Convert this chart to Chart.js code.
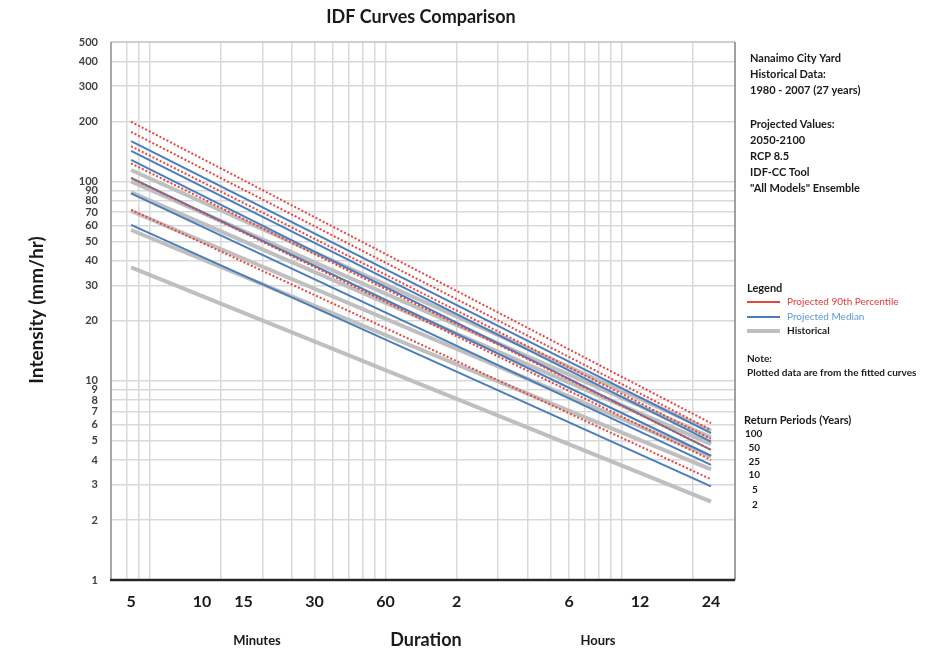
<!DOCTYPE html>
<html>
<head>
<meta charset="utf-8">
<title>IDF Curves Comparison</title>
<script src="https://cdn.jsdelivr.net/npm/chart.js@4.4.0/dist/chart.umd.min.js"></script>
<style>
body { margin: 0; background: #fff; }
</style>
</head>
<body>
<canvas id="idfChart" width="935" height="656"></canvas>
<script>
// return periods (years), lowest first
var periods = [2, 5, 10, 25, 50, 100];
// durations in minutes where the fitted curves start / end
var durations = [5, 1440];

// intensity (mm/hr) at 5 min and at 24 h
var hist5 = [37, 57, 71, 88, 100, 114];
var hist1440 = [2.47, 3.59, 4.16, 4.8, 5.2, 5.6];
var med5 = [60.5, 87, 104, 128, 142, 159];
var med1440 = [2.95, 3.78, 4.2, 4.5, 4.95, 5.45];
var p90_5 = [72, 104, 123, 150, 177, 199];
var p90_1440 = [3.2, 4.0, 4.5, 5.1, 5.66, 6.12];

// axes
var yTicks = [1, 2, 3, 4, 5, 6, 7, 8, 9, 10, 20, 30, 40, 50, 60, 70, 80, 90, 100, 200, 300, 400, 500];
var xGrid = [4.8, 5.4, 6, 12, 18, 24, 30, 36, 42, 48, 54, 60, 120, 180, 240, 300, 360, 420, 480, 540, 600, 1200];
var xTicks = [5, 10, 15, 30, 60, 120, 360, 720, 1440];
var xTickLabels = ['5', '10', '15', '30', '60', '2', '6', '12', '24'];

var FONT = 'Lato, "Open Sans", sans-serif';

function pts(start, end, i) {
    return [{x: durations[0], y: start[i]}, {x: durations[1], y: end[i]}];
}

var datasets = [];
// red dotted first so it sits on top, grey last (underneath)
for (var i = 0; i < periods.length; i++) {
    datasets.push({
        label: 'Projected 90th Percentile ' + periods[i],
        data: pts(p90_5, p90_1440, i),
        borderColor: '#e8453f',
        borderWidth: 2,
        borderDash: [2, 2],
        xAxisID: 'x'
    });
}
for (var i = 0; i < periods.length; i++) {
    datasets.push({
        label: 'Projected Median ' + periods[i],
        data: pts(med5, med1440, i),
        borderColor: '#4a7ebb',
        borderWidth: 2,
        xAxisID: 'x'
    });
}
for (var i = 0; i < periods.length; i++) {
    datasets.push({
        label: 'Historical ' + periods[i],
        data: pts(hist5, hist1440, i),
        borderColor: '#bfbfbf',
        borderWidth: 4,
        xAxisID: 'x'
    });
}

var textPlugin = {
    id: 'texts',
    afterDraw: function (chart) {
        var ctx = chart.ctx;
        var a = chart.chartArea;
        ctx.save();

        // frame
        ctx.lineWidth = 1.5;
        ctx.strokeStyle = '#c8c8c8';
        ctx.beginPath(); ctx.moveTo(a.left, a.top); ctx.lineTo(a.right, a.top); ctx.stroke();
        ctx.strokeStyle = '#808080';
        ctx.beginPath(); ctx.moveTo(a.right, a.top); ctx.lineTo(a.right, a.bottom); ctx.stroke();
        ctx.strokeStyle = '#8c8c8c';
        ctx.beginPath(); ctx.moveTo(a.left, a.top); ctx.lineTo(a.left, a.bottom); ctx.stroke();
        ctx.lineWidth = 2.5;
        ctx.strokeStyle = '#262626';
        ctx.beginPath(); ctx.moveTo(a.left - 1, a.bottom); ctx.lineTo(a.right, a.bottom); ctx.stroke();

        ctx.fillStyle = '#1a1a1a';
        ctx.textBaseline = 'middle';

        // title
        ctx.textAlign = 'center';
        ctx.font = 'bold 18px ' + FONT;
        ctx.fillText('IDF Curves Comparison', 421, 17);

        // x axis words
        ctx.font = 'bold 18px ' + FONT;
        ctx.fillText('Duration', 426, 640);
        ctx.font = 'bold 13px ' + FONT;
        ctx.fillText('Minutes', 257, 641);
        ctx.fillText('Hours', 598, 641);

        // y title
        ctx.save();
        ctx.translate(37, 310);
        ctx.rotate(-Math.PI / 2);
        ctx.font = 'bold 19px ' + FONT;
        ctx.fillText('Intensity (mm/hr)', 0, 0);
        ctx.restore();

        // info block
        ctx.textAlign = 'left';
        ctx.font = 'bold 11px ' + FONT;
        var info = [
            ['Nanaimo City Yard', 58], ['Historical Data:', 74], ['1980 - 2007 (27 years)', 90],
            ['Projected Values:', 124], ['2050-2100', 140], ['RCP 8.5', 156],
            ['IDF-CC Tool', 172], ['"All Models" Ensemble', 188]
        ];
        info.forEach(function (t) { ctx.fillText(t[0], 750, t[1]); });

        // legend
        ctx.fillText('Legend', 747, 288);
        ctx.lineWidth = 2;
        ctx.strokeStyle = '#e8453f';
        ctx.beginPath(); ctx.moveTo(747, 302); ctx.lineTo(780, 302); ctx.stroke();
        ctx.strokeStyle = '#4a7ebb';
        ctx.beginPath(); ctx.moveTo(747, 317); ctx.lineTo(780, 317); ctx.stroke();
        ctx.lineWidth = 4;
        ctx.strokeStyle = '#bfbfbf';
        ctx.beginPath(); ctx.moveTo(747, 331); ctx.lineTo(780, 331); ctx.stroke();
        ctx.font = '10px ' + FONT;
        ctx.fillStyle = '#e03a3a';
        ctx.fillText('Projected 90th Percentile', 787, 302);
        ctx.fillStyle = '#5b9bd5';
        ctx.fillText('Projected Median', 787, 317);
        ctx.fillStyle = '#1a1a1a';
        ctx.font = 'bold 10px ' + FONT;
        ctx.fillText('Historical', 787, 331);

        // note
        ctx.fillText('Note:', 747, 359);
        ctx.fillText('Plotted data are from the fitted curves', 747, 373);

        // return periods
        ctx.font = 'bold 11px ' + FONT;
        ctx.fillText('Return Periods (Years)', 744, 420);
        ctx.font = 'bold 10px ' + FONT;
        var rp = periods.slice().reverse();
        var rpY = [434, 448, 462, 475, 490, 505];
        rp.forEach(function (p, k) {
            var s = String(p);
            ctx.fillText(s, 745 + (3 - s.length) * 3.5, rpY[k]);
        });

        ctx.restore();
    }
};

var ctx = document.getElementById('idfChart').getContext('2d');
var chart = new Chart(ctx, {
    type: 'scatter',
    data: { datasets: datasets },
    options: {
        responsive: false,
        animation: false,
        showLine: true,
        elements: { point: { radius: 0 }, line: { tension: 0 } },
        layout: { padding: { left: 0, top: 42, right: 200, bottom: 0 } },
        plugins: { legend: { display: false }, tooltip: { enabled: false }, title: { display: false } },
        scales: {
            x: {
                type: 'logarithmic',
                position: 'bottom',
                weight: 2,
                min: 4.11,
                max: 1820,
                afterBuildTicks: function (s) { s.ticks = xGrid.map(function (v) { return {value: v}; }); },
                afterFit: function (s) { s.height = 0; },
                ticks: { display: false },
                grid: { color: '#d9d9d9', lineWidth: 1.5, drawTicks: false, tickLength: 0 },
                border: { display: false }
            },
            x2: {
                type: 'logarithmic',
                position: 'bottom',
                weight: 1,
                min: 4.11,
                max: 1820,
                afterBuildTicks: function (s) { s.ticks = xTicks.map(function (v) { return {value: v}; }); },
                afterFit: function (s) { s.height = 76; },
                ticks: {
                    autoSkip: false, maxRotation: 0, minRotation: 0, padding: 12,
                    color: '#1a1a1a',
                    font: { family: FONT, size: 16, weight: 'bold' },
                    callback: function (v) { return xTickLabels[xTicks.indexOf(v)]; }
                },
                grid: { display: false, drawTicks: false, tickLength: 0 },
                border: { display: false }
            },
            y: {
                type: 'logarithmic',
                min: 1,
                max: 500,
                afterBuildTicks: function (s) { s.ticks = yTicks.map(function (v) { return {value: v}; }); },
                afterFit: function (s) { s.width = 111; },
                ticks: {
                    autoSkip: false, padding: 13,
                    color: '#404040',
                    font: { family: FONT, size: 11, weight: 'bold' },
                    callback: function (v) { return String(v); }
                },
                grid: { color: '#d9d9d9', lineWidth: 1.5, drawTicks: false, tickLength: 0 },
                border: { display: false }
            }
        }
    },
    plugins: [textPlugin]
});
</script>
</body>
</html>
